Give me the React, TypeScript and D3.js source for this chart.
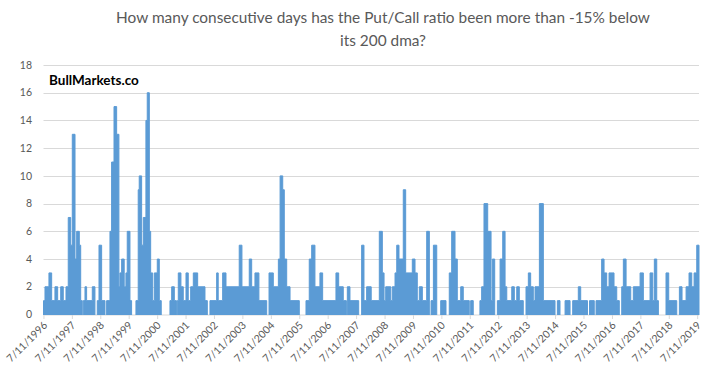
import React from "react";
import * as d3 from "d3";

// Start date of each run of equal values (value holds until the next date)
const stepDates = [
  "1996-07-05","1996-07-24","1996-09-13","1996-10-18","1996-11-29","1997-01-03","1997-02-11","1997-03-16","1997-04-20","1997-05-19",
  "1997-06-19","1997-07-10","1997-08-14","1997-09-04","1997-10-08","1997-10-26","1997-11-15","1997-11-28","1997-12-20","1998-01-10",
  "1998-03-24","1998-04-27","1998-05-27","1998-06-18","1998-07-22","1998-09-03","1998-09-24","1998-11-06","1998-11-27","1998-12-28",
  "1999-01-31","1999-03-01","1999-03-14","1999-04-05","1999-05-08","1999-05-30","1999-06-16","1999-07-21","1999-08-11","1999-10-06",
  "1999-11-04","1999-11-17","1999-12-18","2000-01-08","2000-02-11","2000-02-28","2000-03-26","2000-04-12","2000-05-08","2000-05-29",
  "2000-07-06","2000-08-01","2000-08-26","2000-12-16","2001-01-07","2001-02-10","2001-03-09","2001-03-20","2001-04-02","2001-05-06",
  "2001-06-05","2001-07-10","2001-08-08","2001-09-08","2001-10-12","2001-12-07","2002-03-11","2002-04-10","2002-05-14","2002-08-08",
  "2002-08-28","2002-10-24","2002-12-06","2003-05-25","2003-06-29","2003-10-01","2003-11-01","2003-12-13","2004-02-02","2004-05-12",
  "2004-06-11","2004-08-05","2004-10-09","2004-10-31","2004-12-04","2004-12-24","2005-01-24","2005-03-08","2005-07-05","2005-09-29",
  "2005-11-10","2005-12-11","2006-01-22","2006-03-27","2006-05-01","2006-10-19","2006-11-23","2007-01-21","2007-03-02","2007-03-14",
  "2007-04-17","2007-08-07","2007-09-14","2007-10-14","2007-11-17","2008-01-15","2008-04-28","2008-06-06","2008-06-28","2008-07-19",
  "2008-09-22","2008-10-12","2008-11-16","2008-12-08","2009-01-06","2009-03-02","2009-04-02","2009-06-26","2009-07-31","2009-08-29",
  "2009-09-24","2009-11-02","2009-12-28","2010-01-31","2010-02-22","2010-03-24","2010-05-06","2010-06-26","2010-09-02","2010-10-14",
  "2010-11-14","2010-12-27","2011-01-25","2011-03-10","2011-04-12","2011-06-28","2011-07-16","2011-08-18","2011-11-12","2011-12-04",
  "2012-01-03","2012-02-20","2012-04-03","2012-04-20","2012-05-20","2012-06-23","2012-07-28","2012-08-31","2012-09-30","2012-10-22",
  "2012-12-25","2013-01-27","2013-02-27","2013-04-01","2013-05-22","2013-06-26","2013-07-26","2013-08-25","2013-09-28","2013-10-20",
  "2013-12-15","2014-02-04","2014-07-04","2014-08-03","2014-09-06","2014-11-10","2015-01-13","2015-02-16","2015-04-29","2015-05-30",
  "2015-08-25","2015-09-20","2015-11-20","2015-12-13","2016-02-23","2016-03-25","2016-04-28","2016-05-28","2016-07-31","2016-09-04",
  "2016-10-07","2016-11-07","2016-11-28","2017-01-02","2017-03-03","2017-04-05","2017-07-01","2017-08-12","2017-11-06","2017-12-11",
  "2017-12-31","2018-01-31","2018-02-21","2018-05-30","2018-07-04","2018-10-15","2018-11-18","2018-12-22","2019-02-12","2019-03-22",
  "2019-04-26","2019-05-26","2019-06-29",
];

// Consecutive-day count for each run above
const stepValues = [
  1,2,3,1,2,1,2,1,2,7,
  5,13,4,6,5,1,0,1,2,1,
  2,0,1,5,1,0,1,6,11,15,
  13,2,3,4,2,3,6,1,0,1,
  9,10,5,7,14,16,6,3,1,3,
  4,1,0,1,2,1,0,1,3,2,
  1,3,1,2,3,2,1,0,1,3,
  1,3,2,5,2,4,2,3,1,0,
  3,2,4,10,9,4,2,1,0,1,
  4,5,2,3,1,3,2,1,0,2,
  1,0,5,1,2,1,6,3,1,2,
  1,2,3,5,4,9,3,4,3,1,
  2,1,6,0,1,5,0,1,0,3,
  6,4,1,2,1,0,1,0,1,2,
  8,6,1,4,0,1,4,6,2,1,
  2,1,2,1,0,2,3,2,1,2,
  8,1,0,1,0,1,0,1,2,1,
  0,1,0,1,4,3,2,3,2,1,
  0,2,4,2,1,2,3,1,3,1,
  4,1,0,3,1,0,2,1,2,3,
  2,3,5,
];

const startDate = "1996-07-05";
const endDate = "2019-07-28";

const yTicks = [0, 2, 4, 6, 8, 10, 12, 14, 16, 18];

const xTickLabels = [
  "7/11/1996","7/11/1997","7/11/1998","7/11/1999","7/11/2000","7/11/2001",
  "7/11/2002","7/11/2003","7/11/2004","7/11/2005","7/11/2006","7/11/2007",
  "7/11/2008","7/11/2009","7/11/2010","7/11/2011","7/11/2012","7/11/2013",
  "7/11/2014","7/11/2015","7/11/2016","7/11/2017","7/11/2018","7/11/2019",
];

const titleLines = [
  "How many consecutive days has the Put/Call ratio been more than -15% below",
  "its 200 dma?",
];

const watermark = "BullMarkets.co";

const FONT = "Lato, 'Open Sans', sans-serif";

export default function App() {
  const W = 720;
  const H = 371;
  const parse = d3.timeParse("%Y-%m-%d");
  const parseTick = d3.timeParse("%m/%d/%Y");

  const x = d3
    .scaleTime()
    .domain([parse(startDate) as Date, parse(endDate) as Date])
    .range([43.5, 699]);
  const y = d3.scaleLinear().domain([0, 18]).range([314.5, 65]);

  const pts = stepDates.map((d, i) => ({ date: parse(d) as Date, v: stepValues[i] }));
  pts.push({ date: parse(endDate) as Date, v: stepValues[stepValues.length - 1] });

  const base = y(0);
  const area = d3
    .area<{ date: Date; v: number }>()
    .x((d) => x(d.date))
    .y0(base + 2)
    .y1((d) => (d.v === 0 ? base + 2 : y(d.v)))
    .curve(d3.curveStepAfter);

  const [x0, x1] = x.range();

  return (
    <div style={{ position: "absolute", left: 0, top: 0 }}>
      <svg width={W} height={H} style={{ display: "block", background: "#fff" }}>
        <defs>
          <clipPath id="plotClip">
            <rect x={x0 - 1} y={40} width={x1 - x0 + 2} height={base + 0.5 - 40} />
          </clipPath>
        </defs>
        {titleLines.map((t, i) => (
          <text
            key={i}
            x={383}
            y={23 + i * 23}
            textAnchor="middle"
            fontFamily={FONT}
            fontSize={15.4}
            fill="#595959"
          >
            {t}
          </text>
        ))}
        {yTicks.map((t) => (
          <g key={t}>
            {t > 0 && (
              <line x1={x0} x2={x1} y1={Math.round(y(t)) + 0.5} y2={Math.round(y(t)) + 0.5} stroke="#D9D9D9" strokeWidth={1} />
            )}
            <text
              x={32}
              y={y(t)}
              dy="0.35em"
              textAnchor="end"
              fontFamily={FONT}
              fontSize={10.5}
              fill="#595959"
            >
              {t}
            </text>
          </g>
        ))}
        <line x1={x0} x2={x1} y1={315} y2={315} stroke="#D9D9D9" strokeWidth={1} />
        {xTickLabels.map((lbl) => {
          const xx = x(parseTick(lbl) as Date);
          return (
            <g key={lbl}>
              <line x1={xx} x2={xx} y1={315} y2={319} stroke="#D9D9D9" strokeWidth={1} />
              <text
                transform={`translate(${xx + 4},${326}) rotate(-45)`}
                textAnchor="end"
                fontFamily={FONT}
                fontSize={10.5}
                fill="#595959"
              >
                {lbl}
              </text>
            </g>
          );
        })}
        <path
          d={area(pts) || ""}
          fill="#5B9BD5"
          stroke="#5B9BD5"
          strokeWidth={1}
          strokeLinejoin="round"
          clipPath="url(#plotClip)"
        />
        <text x={49} y={85} fontFamily={FONT} fontWeight="bold" fontSize={13.5} fill="#000">
          {watermark}
        </text>
      </svg>
    </div>
  );
}
